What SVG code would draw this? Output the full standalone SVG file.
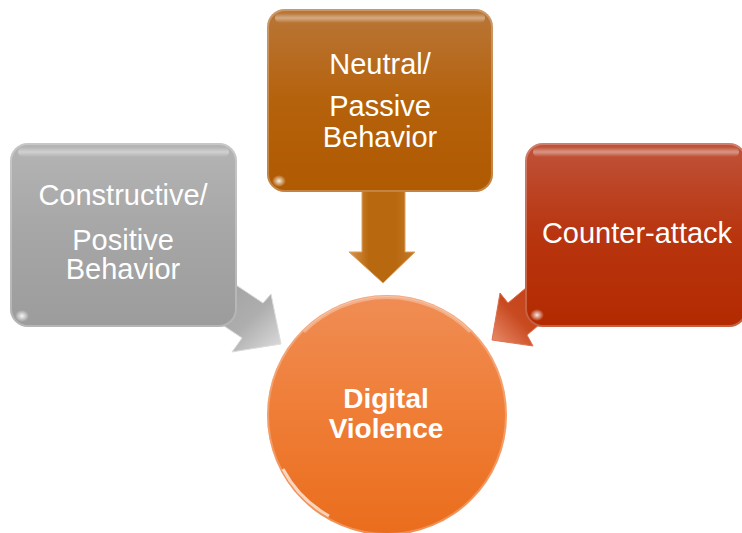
<svg xmlns="http://www.w3.org/2000/svg" width="742" height="533" viewBox="0 0 742 533">
<defs>
<linearGradient id="gGray" x1="0" y1="0" x2="0" y2="1"><stop offset="0" stop-color="#b4b4b4"/><stop offset="0.5" stop-color="#a6a6a6"/><stop offset="1" stop-color="#9c9c9c"/></linearGradient>
<linearGradient id="gOrange" x1="0" y1="0" x2="0" y2="1"><stop offset="0" stop-color="#b97638"/><stop offset="0.5" stop-color="#b5620c"/><stop offset="1" stop-color="#b05a02"/></linearGradient>
<linearGradient id="gRed" x1="0" y1="0" x2="0" y2="1"><stop offset="0" stop-color="#c0533a"/><stop offset="0.5" stop-color="#b8350f"/><stop offset="1" stop-color="#b32a00"/></linearGradient>
<linearGradient id="gCircle" x1="0" y1="0" x2="0" y2="1"><stop offset="0" stop-color="#f08d55"/><stop offset="0.5" stop-color="#ef7d36"/><stop offset="1" stop-color="#ea6d1c"/></linearGradient>
<linearGradient id="gShine" x1="0" y1="0" x2="0" y2="1"><stop offset="0" stop-color="#fff" stop-opacity="0"/><stop offset="0.5" stop-color="#fff" stop-opacity="0.4"/><stop offset="1" stop-color="#fff" stop-opacity="0"/></linearGradient>
<linearGradient id="aGray" x1="0" y1="0" x2="1" y2="1"><stop offset="0" stop-color="#9c9c9c"/><stop offset="0.6" stop-color="#aeaeae"/><stop offset="1" stop-color="#dedede"/></linearGradient>
<linearGradient id="aOrange" x1="0" y1="0" x2="1" y2="0"><stop offset="0" stop-color="#d8964a"/><stop offset="0.3" stop-color="#b8680f"/><stop offset="0.7" stop-color="#b8680f"/><stop offset="1" stop-color="#c47a2a"/></linearGradient>
<linearGradient id="aRed" x1="1" y1="0" x2="0" y2="1"><stop offset="0" stop-color="#c03a12"/><stop offset="0.6" stop-color="#c84a20"/><stop offset="1" stop-color="#eb9070"/></linearGradient>
<radialGradient id="spot" cx="0.5" cy="0.5" r="0.5"><stop offset="0" stop-color="#fff" stop-opacity="0.9"/><stop offset="1" stop-color="#fff" stop-opacity="0"/></radialGradient>
</defs>
<style>
.lbl{font-family:"Liberation Sans",Arial,sans-serif;font-size:29px;fill:#fff;text-anchor:middle}
.bold{font-family:"Liberation Sans",Arial,sans-serif;font-size:28px;font-weight:bold;fill:#fff;text-anchor:middle}
.rim{fill:none;stroke:#fff;stroke-opacity:0.25;stroke-width:2}
</style>
<g id="connectors">
<polygon points="221,275 263,303 271,294 281,344 232,352 242,338 200,310" fill="url(#aGray)" stroke="#dcdcdc" stroke-width="1"/>
<polygon points="362,185 362,252 349,252 383,283 415,252 405,252 405,185" fill="url(#aOrange)" stroke="#d9a060" stroke-width="1"/>
<polygon points="539,277 508,303 500,293 492,340 533,346 527,335 558,309" fill="url(#aRed)" stroke="#e07050" stroke-width="1"/>
</g>
<g id="node-constructive">
<rect x="10" y="143" width="227" height="184" rx="18" fill="url(#gGray)"/>
<rect x="18" y="147" width="211" height="10" rx="5" fill="url(#gShine)"/>
<rect x="11" y="144" width="225" height="182" rx="17" class="rim"/>
<ellipse cx="22" cy="316" rx="7" ry="6" fill="url(#spot)"/>
<text class="lbl" x="123" y="205">Constructive/</text>
<text class="lbl" x="123" y="250">Positive</text>
<text class="lbl" x="123" y="279">Behavior</text>
</g>
<g id="node-neutral">
<rect x="267" y="9" width="226" height="183" rx="18" fill="url(#gOrange)"/>
<rect x="275" y="13" width="210" height="10" rx="5" fill="url(#gShine)"/>
<rect x="268" y="10" width="224" height="181" rx="17" class="rim"/>
<ellipse cx="279" cy="181" rx="7" ry="6" fill="url(#spot)"/>
<text class="lbl" x="380" y="74">Neutral/</text>
<text class="lbl" x="380" y="116">Passive</text>
<text class="lbl" x="380" y="147">Behavior</text>
</g>
<g id="node-counter">
<rect x="525" y="143" width="222" height="184" rx="18" fill="url(#gRed)"/>
<rect x="533" y="147" width="206" height="10" rx="5" fill="url(#gShine)"/>
<rect x="526" y="144" width="220" height="182" rx="17" class="rim"/>
<ellipse cx="537" cy="315" rx="7" ry="6" fill="url(#spot)"/>
<text class="lbl" x="637" y="243">Counter-attack</text>
</g>
<g id="node-digital-violence">
<circle cx="387" cy="415" r="120" fill="url(#gCircle)"/>
<path d="M 304 332 A 117 117 0 0 1 470 332" fill="none" stroke="#fff" stroke-opacity="0.3" stroke-width="3"/>
<path d="M 283 469 A 117 117 0 0 0 329 516" fill="none" stroke="#fff" stroke-opacity="0.7" stroke-width="3"/>
<circle cx="387" cy="415" r="119" class="rim"/>
<text class="bold" x="386" y="408">Digital</text>
<text class="bold" x="386" y="438">Violence</text>
</g>
</svg>
